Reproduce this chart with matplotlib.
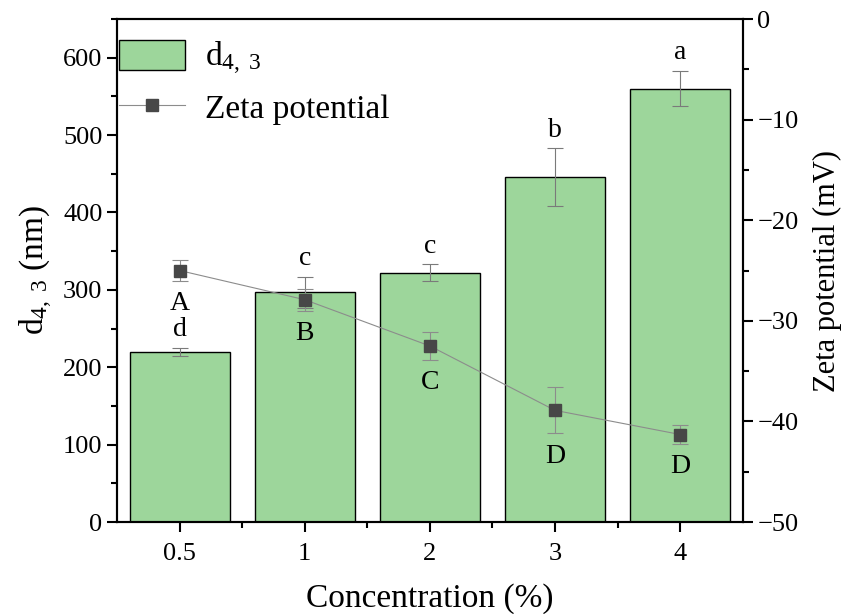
import matplotlib
matplotlib.use("Agg")
import matplotlib.pyplot as plt
from matplotlib.ticker import MultipleLocator
import matplotlib.patches as mpatches
from matplotlib.lines import Line2D

plt.rcParams['font.family'] = ['Liberation Serif', 'DejaVu Serif']
plt.rcParams['mathtext.fontset'] = 'custom'
plt.rcParams['mathtext.rm'] = 'Liberation Serif'
plt.rcParams['mathtext.it'] = 'Liberation Serif:italic'

conc = ['0.5', '1', '2', '3', '4']
d43 = [220, 297, 322, 446, 560]
d43_err = [5, 20, 11, 37, 23]
zeta = [-25.0, -27.9, -32.5, -38.9, -41.3]
zeta_err = [1.0, 1.1, 1.4, 2.3, 0.9]
bar_letters = ['d', 'c', 'c', 'b', 'a']
zeta_letters = ['A', 'B', 'C', 'D', 'D']

x = list(range(len(conc)))

fig = plt.figure(figsize=(8.45, 6.14), dpi=100)
ax = fig.add_axes([0.1385, 0.1498, 0.7405, 0.8192])
ax2 = ax.twinx()

ax.bar(x, d43, width=0.8, color='#9dd69b', edgecolor='black', linewidth=1.0,
       yerr=d43_err, error_kw=dict(ecolor='#7a7a7a', elinewidth=0.8, capsize=6, capthick=0.8))
ax2.errorbar(x, zeta, yerr=zeta_err, color='#8c8c8c', lw=0.8, marker='s', ms=8,
             mfc='#474747', mec='#474747', ecolor='#8c8c8c', elinewidth=0.8, capsize=6, capthick=0.8)

for i in x:
    ax.annotate(bar_letters[i], (i, d43[i] + d43_err[i]), xytext=(0, 13), textcoords='offset points',
                ha='center', va='center', fontsize=20)
    ax2.annotate(zeta_letters[i], (i, zeta[i] - zeta_err[i]), xytext=(0, -16.5), textcoords='offset points',
                 ha='center', va='center', fontsize=20)

ax.set_xlim(-0.5, 4.5)
ax.set_ylim(0, 650)
ax2.set_ylim(-50, 0)
ax.set_xticks(x)
ax.set_xticklabels(conc)
ax.set_xticks([i + 0.5 for i in x[:-1]], minor=True)
ax.yaxis.set_major_locator(MultipleLocator(100))
ax.yaxis.set_minor_locator(MultipleLocator(50))
ax2.yaxis.set_major_locator(MultipleLocator(10))
ax2.yaxis.set_minor_locator(MultipleLocator(5))

for a in (ax, ax2):
    for s in a.spines.values():
        s.set_linewidth(1.5)
    a.tick_params(which='major', direction='out', length=7, width=1.5, labelsize=19)
    a.tick_params(which='minor', direction='out', length=4, width=1.5)
ax.tick_params(axis='x', pad=8)

ax.set_xlabel('Concentration (%)', fontsize=24, labelpad=13)
ax.set_ylabel('d$_{4,\\ 3}$ (nm)', fontsize=24, labelpad=6)
ax2.set_ylabel('Zeta potential (mV)', fontsize=22, labelpad=10)

handles = [mpatches.Patch(facecolor='#9dd69b', edgecolor='black', linewidth=1.0),
           Line2D([], [], color='#8c8c8c', lw=0.8, marker='s', ms=8, mfc='#474747', mec='#474747')]
ax.legend(handles, ['d$_{4,\\ 3}$', 'Zeta potential'], loc='upper left', frameon=False,
          bbox_to_anchor=(0.0024, 0.959), fontsize=24, handlelength=2.0, handleheight=1.0,
          handletextpad=0.6, borderaxespad=0, labelspacing=0.45, borderpad=0)

fig.savefig('out.png', dpi=100)
